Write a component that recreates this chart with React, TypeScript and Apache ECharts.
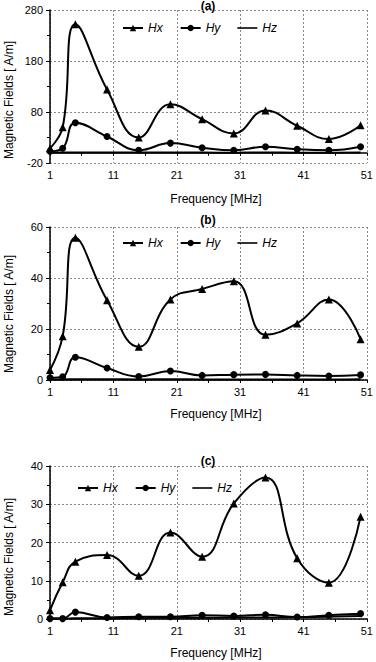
import React, { useEffect, useRef } from "react";
import * as echarts from "echarts";

// Frequencies at which the fields were sampled (MHz)
const FREQ = [1, 3, 5, 10, 15, 20, 25, 30, 35, 40, 45, 50];

// Panel (a)
const A_HX = [9, 50, 252, 124, 30, 95, 66, 38, 83, 53, 27, 54];
const A_HY = [3, 9, 59, 32, 5, 19, 10, 5, 12, 7, 5, 12];
const A_HZ = [0.4, 0.5, 0.8, 0.6, 0.4, 0.5, 0.4, 0.3, 0.4, 0.3, 0.3, 0.4];

// Panel (b)
const B_HX = [3.9, 17.2, 55.8, 31.3, 13.0, 31.6, 35.7, 38.7, 17.7, 22.2, 31.6, 16.0];
const B_HY = [0.9, 1.3, 8.9, 4.7, 1.4, 3.5, 1.8, 2.1, 2.2, 1.8, 1.6, 2.0];
const B_HZ = [0.2, 0.2, 0.3, 0.3, 0.2, 0.3, 0.2, 0.2, 0.2, 0.2, 0.2, 0.3];

// Panel (c)
const C_HX = [2.3, 9.6, 15.0, 16.7, 11.3, 22.6, 16.3, 30.2, 37.0, 15.9, 9.5, 26.7];
const C_HY = [0.1, 0.1, 1.8, 0.4, 0.6, 0.6, 1.0, 0.8, 1.1, 0.5, 1.0, 1.4];
const C_HZ = [0.1, 0.1, 0.2, 0.2, 0.3, 0.3, 0.3, 0.4, 0.4, 0.5, 0.6, 0.8];

const PANEL_TITLES = ["(a)", "(b)", "(c)"];
const SERIES_NAMES = ["Hx", "Hy", "Hz"];
const X_NAME = "Frequency [MHz]";
const Y_NAME = "Magnetic Fields [ A/m]";

// y-axis ranges per panel: [min, max, interval]
const Y_RANGES: [number, number, number][] = [
  [-20, 280, 100],
  [0, 60, 20],
  [0, 40, 10],
];

const FONT = "'Liberation Sans', Arial, Helvetica, sans-serif";
const GRID_LINE = { color: "#8a8a8a", width: 1, type: [2, 2] as number[] };

const pair = (vals: number[]) => FREQ.map((f, i) => [f, vals[i]]);

export default function App() {
  const ref = useRef<HTMLDivElement>(null);

  useEffect(() => {
    if (!ref.current) return;
    const chart = echarts.init(ref.current, undefined, { renderer: "svg" });

    const gridTops = [10, 227, 466];
    const grids = gridTops.map((top) => ({ left: 50, top, width: 319, height: 153 }));

    const xBase = {
      type: "value",
      min: 1,
      max: 51,
      interval: 10,
      axisLabel: { color: "#000", fontSize: 11, fontFamily: FONT, margin: 6 },
      splitLine: { show: true, lineStyle: GRID_LINE },
    };
    const zeroLine = {
      show: true,
      onZero: true,
      lineStyle: { color: "#000", width: 1.5 },
    };
    const xTicks = {
      axisTick: { show: true, length: 3, lineStyle: { color: "#000" } },
      minorTick: { show: true, splitNumber: 2, length: 3, lineStyle: { color: "#000" } },
    };

    const xAxis: any[] = [
      // panel (a): labels along the bottom edge
      {
        ...xBase,
        gridIndex: 0,
        position: "bottom",
        axisLine: { show: false, onZero: false },
        axisTick: { show: false },
      },
      // panel (a): horizontal axis crossing at zero
      {
        type: "value",
        min: 1,
        max: 51,
        interval: 10,
        gridIndex: 0,
        position: "bottom",
        axisLine: zeroLine,
        axisLabel: { show: false },
        splitLine: { show: false },
        ...xTicks,
      },
      { ...xBase, gridIndex: 1, axisLine: zeroLine, ...xTicks },
      { ...xBase, gridIndex: 2, axisLine: zeroLine, ...xTicks },
    ];

    const yAxis = Y_RANGES.map(([min, max, interval], i) => ({
      type: "value",
      gridIndex: i,
      min,
      max,
      interval,
      axisLine: { show: true, onZero: false, lineStyle: { color: "#000", width: 1.5 } },
      axisTick: { show: true, length: 4, lineStyle: { color: "#000" } },
      minorTick: { show: true, splitNumber: 2, length: 3, lineStyle: { color: "#000" } },
      axisLabel: { color: "#000", fontSize: 11, fontFamily: FONT, margin: 7 },
      splitLine: { show: true, lineStyle: GRID_LINE },
    }));

    const panels = [
      { hx: A_HX, hy: A_HY, hz: A_HZ, xi: 0, yi: 0 },
      { hx: B_HX, hy: B_HY, hz: B_HZ, xi: 2, yi: 1 },
      { hx: C_HX, hy: C_HY, hz: C_HZ, xi: 3, yi: 2 },
    ];

    const lineStyle = { color: "#000", width: 2 };
    const series: any[] = [];
    panels.forEach((p) => {
      const common = {
        type: "line",
        xAxisIndex: p.xi,
        yAxisIndex: p.yi,
        smooth: 0.45,
        lineStyle,
        itemStyle: { color: "#000" },
      };
      series.push({ ...common, name: SERIES_NAMES[2], data: pair(p.hz), symbol: "none", z: 2 });
      series.push({ ...common, name: SERIES_NAMES[1], data: pair(p.hy), symbol: "circle", symbolSize: 7, z: 3 });
      series.push({ ...common, name: SERIES_NAMES[0], data: pair(p.hx), symbol: "triangle", symbolSize: 8, z: 4 });
    });

    // Hz has no marker, so its legend key is a plain line
    const legendData = [
      { name: SERIES_NAMES[0] },
      { name: SERIES_NAMES[1] },
      { name: SERIES_NAMES[2], icon: "path://M0,3.2H20V4.8H0Z" },
    ];
    const legendPos = [
      { left: 117, top: 17 },
      { left: 117, top: 232 },
      { left: 72, top: 477 },
    ];
    const legend = legendPos.map((pos) => ({
      ...pos,
      orient: "horizontal",
      data: legendData,
      itemWidth: 20,
      itemHeight: 8,
      itemGap: 17,
      selectedMode: false,
      itemStyle: { color: "#000" },
      textStyle: { color: "#000", fontSize: 12, fontStyle: "italic", fontFamily: FONT },
    }));

    const titleY = [6, 220, 461];
    const xNameY = [199, 414, 653];
    const yNameY = [100, 314, 557];
    const graphic: any[] = [];
    for (let i = 0; i < 3; i++) {
      graphic.push({
        type: "text",
        x: 208,
        y: titleY[i],
        style: {
          text: PANEL_TITLES[i],
          font: `bold 12px ${FONT}`,
          fill: "#000",
          textAlign: "center",
          textVerticalAlign: "middle",
        },
      });
      graphic.push({
        type: "text",
        x: 216,
        y: xNameY[i],
        style: {
          text: X_NAME,
          font: `12px ${FONT}`,
          fill: "#000",
          textAlign: "center",
          textVerticalAlign: "middle",
        },
      });
      graphic.push({
        type: "text",
        x: 9,
        y: yNameY[i],
        rotation: Math.PI / 2,
        style: {
          text: Y_NAME,
          font: `12px ${FONT}`,
          fill: "#000",
          textAlign: "center",
          textVerticalAlign: "middle",
        },
      });
    }

    chart.setOption({
      animation: false,
      backgroundColor: "#fff",
      grid: grids,
      xAxis,
      yAxis,
      legend,
      series,
      graphic,
    });

    return () => chart.dispose();
  }, []);

  return (
    <div
      ref={ref}
      style={{ position: "absolute", left: 0, top: 0, width: 376, height: 662 }}
    />
  );
}
